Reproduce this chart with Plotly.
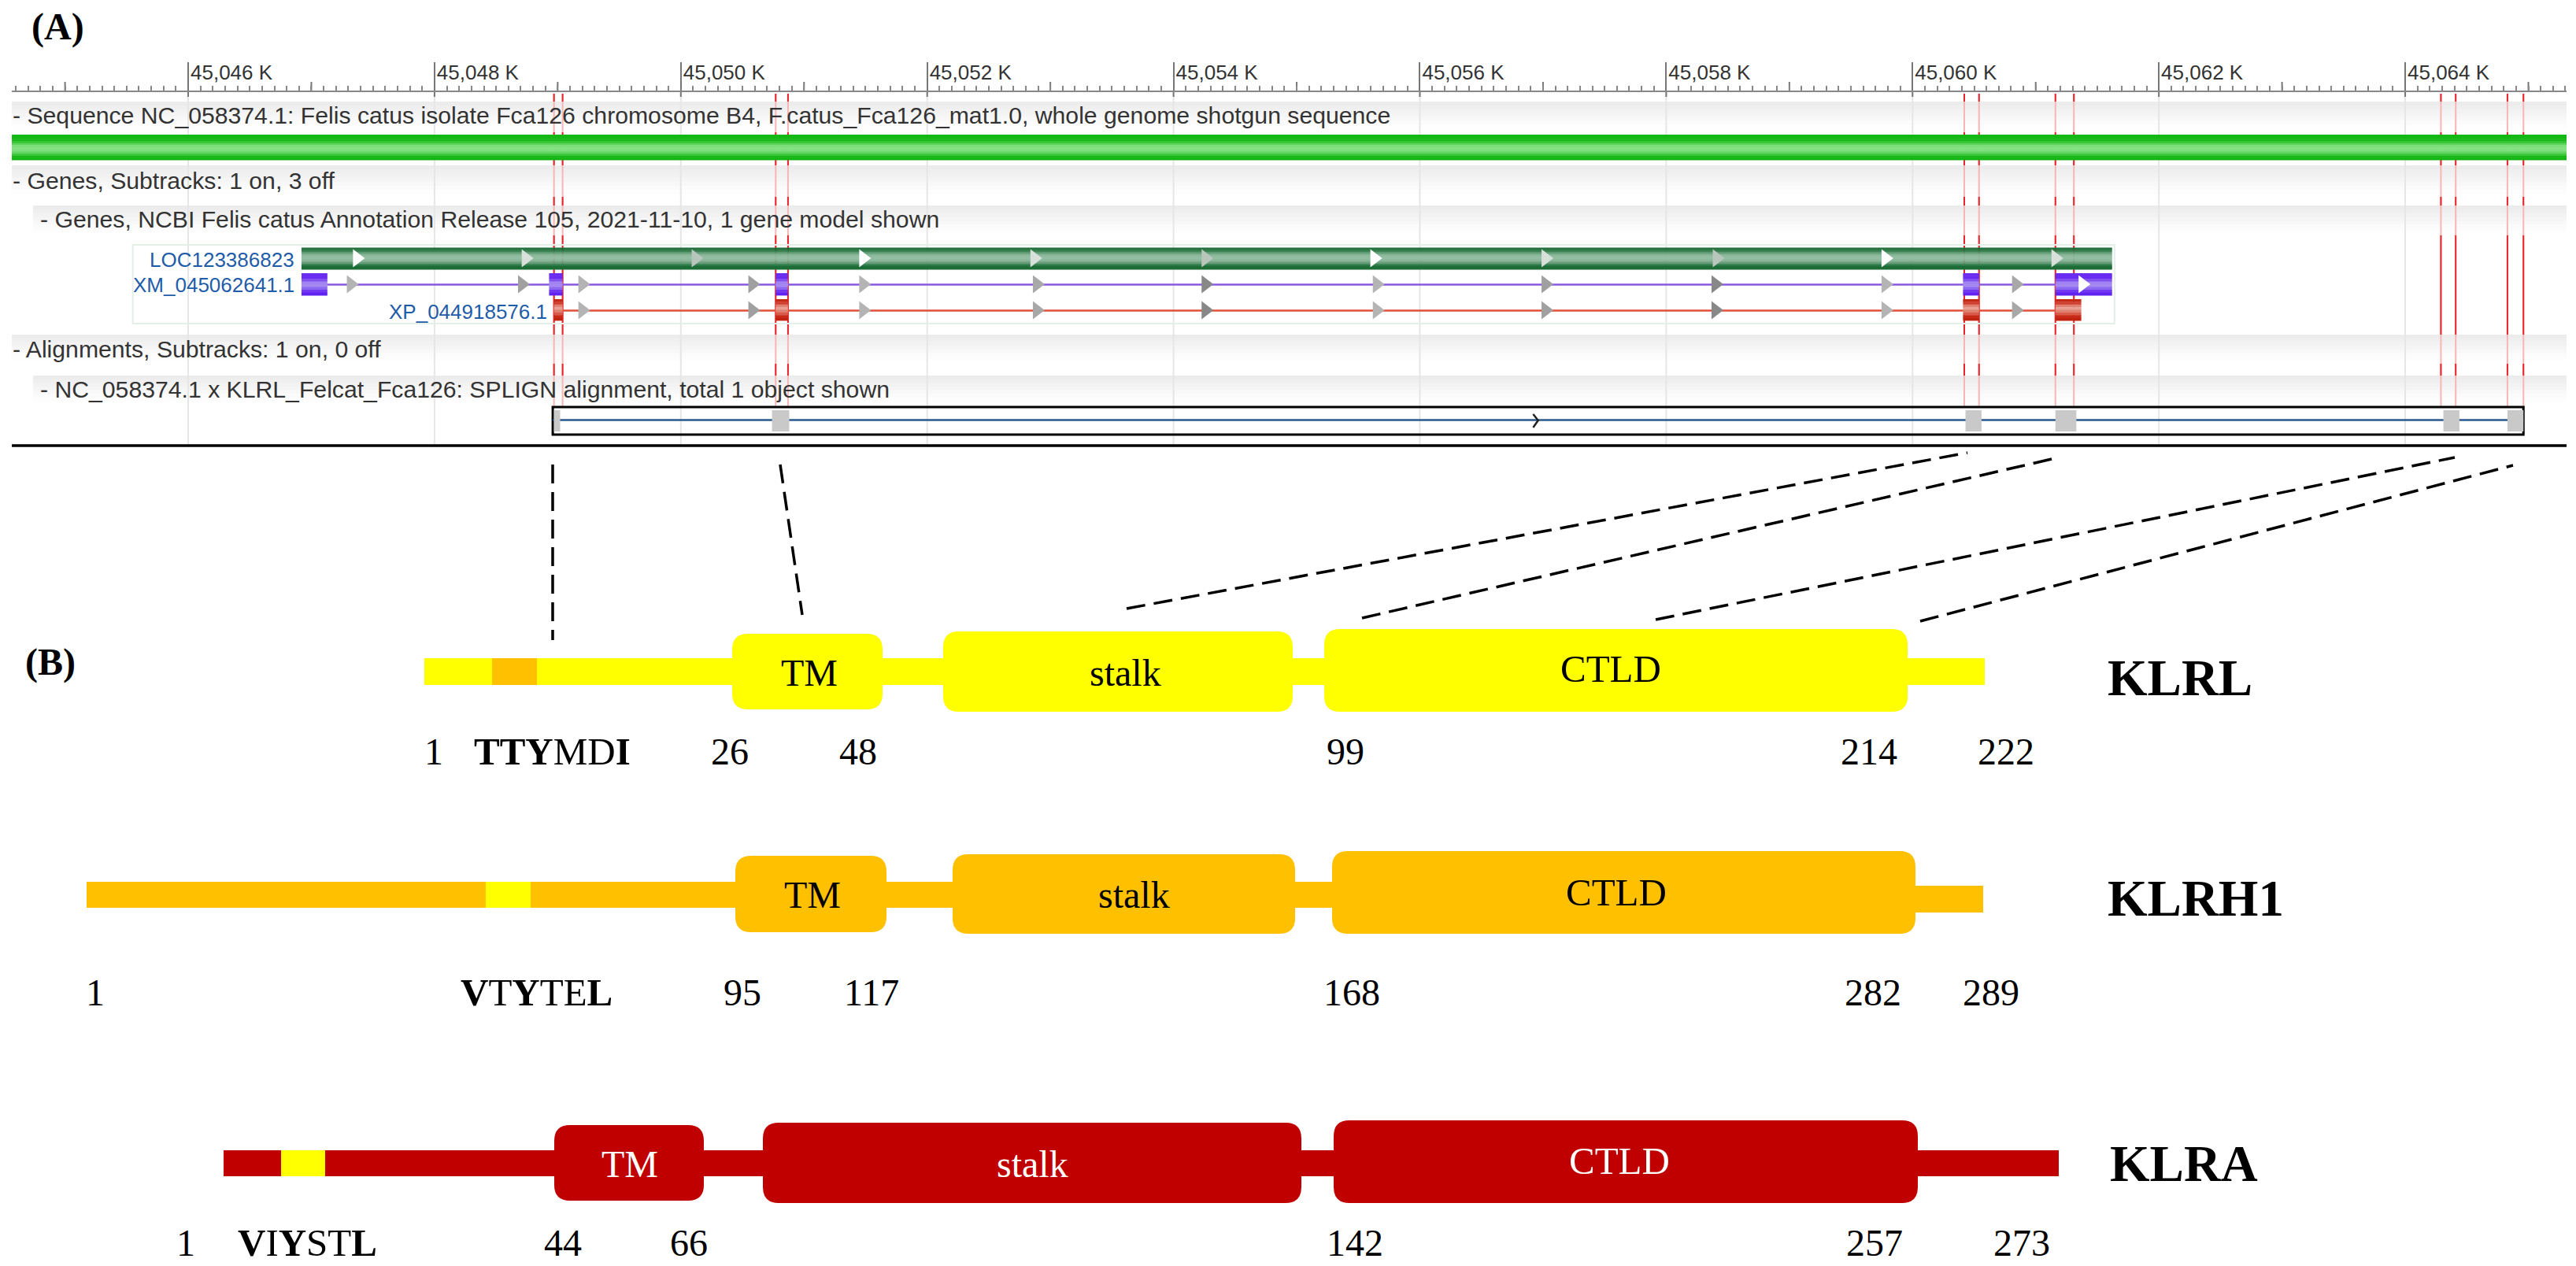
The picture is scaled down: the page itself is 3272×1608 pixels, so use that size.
import plotly.graph_objects as go

# ---- panel A, genome coordinates in kb
ruler_ticks = [45046, 45048, 45050, 45052, 45054, 45056, 45058, 45060, 45062, 45064]
ruler_labels = ["45,046 K", "45,048 K", "45,050 K", "45,052 K", "45,054 K",
                "45,056 K", "45,058 K", "45,060 K", "45,062 K", "45,064 K"]
ruler_mid_ticks = [45045, 45047, 45049, 45051, 45053, 45055, 45057, 45059, 45061, 45063, 45065]

gene_span = [45046.92, 45061.62]
gene_arrows = [45047.37, 45048.74, 45050.12, 45051.48, 45052.87, 45054.26,
               45055.63, 45057.02, 45058.41, 45059.78, 45061.16]
gene_arrow_colors = ["#ffffff", "#d8e0da", "#b9c6bc", "#ffffff", "#d8e0da", "#b9c6bc",
                     "#ffffff", "#d8e0da", "#b9c6bc", "#ffffff", "#d8e0da"]

xm_exons = [[45046.92, 45047.13], [45048.93, 45049.04], [45050.77, 45050.87],
            [45060.41, 45060.54], [45061.16, 45061.62]]
xm_arrows = [45047.32, 45048.71, 45049.20, 45050.58, 45051.48, 45052.89,
             45054.26, 45055.65, 45057.02, 45058.40, 45059.78, 45060.84]
xm_arrow_colors = ["#b4b4b4", "#a0a0a0", "#b4b4b4", "#a0a0a0", "#b4b4b4", "#a8a8a8",
                   "#888888", "#b4b4b4", "#a0a0a0", "#888888", "#b4b4b4", "#a8a8a8"]
xp_exons = [[45048.97, 45049.04], [45050.77, 45050.87], [45060.41, 45060.54], [45061.16, 45061.37]]
xp_arrows = [45049.20, 45050.58, 45051.48, 45052.89, 45054.26, 45055.65,
             45057.02, 45058.40, 45059.78, 45060.84]
xp_arrow_colors = ["#b4b4b4", "#a0a0a0", "#b4b4b4", "#a8a8a8", "#888888", "#b4b4b4",
                   "#a0a0a0", "#888888", "#b4b4b4", "#a8a8a8"]

align_span = [45048.96, 45064.96]
align_blocks = [[45048.97, 45049.02], [45050.74, 45050.88], [45060.43, 45060.56],
                [45061.16, 45061.33], [45064.31, 45064.44], [45064.83, 45064.96]]
exon_marks = [45048.97, 45049.04, 45050.77, 45050.87, 45060.42, 45060.54,
              45061.16, 45061.31, 45064.29, 45064.41, 45064.83, 45064.96]

track_labels = ["- Sequence NC_058374.1: Felis catus isolate Fca126 chromosome B4, F.catus_Fca126_mat1.0, whole genome shotgun sequence",
                "- Genes, Subtracks: 1 on, 3 off",
                "- Genes, NCBI Felis catus Annotation Release 105, 2021-11-10, 1 gene model shown",
                "- Alignments, Subtracks: 1 on, 0 off",
                "- NC_058374.1 x KLRL_Felcat_Fca126: SPLIGN alignment, total 1 object shown"]

# ---- panel B, schematic positions of the protein maps
klrl_bar = [539, 2521]
klrl_tm = [930, 1121]
klrl_stalk = [1198, 1642]
klrl_ctld = [1682, 2423]
klrl_motif = [625, 682]
klrl_residues = ["1", "26", "48", "99", "214", "222"]

klrh1_bar = [110, 2519]
klrh1_tm = [934, 1126]
klrh1_stalk = [1210, 1645]
klrh1_ctld = [1692, 2433]
klrh1_motif = [617, 674]
klrh1_residues = ["1", "95", "117", "168", "282", "289"]

klra_bar = [284, 2615]
klra_tm = [704, 894]
klra_stalk = [969, 1653]
klra_ctld = [1694, 2436]
klra_motif = [357, 413]
klra_residues = ["1", "44", "66", "142", "257", "273"]

klr_names = ["KLRL", "KLRH1", "KLRA"]
klr_motifs = ["<b>TTY</b>MD<b>I</b>", "<b>V</b>T<b>Y</b>TE<b>L</b>", "<b>V</b>I<b>Y</b>ST<b>L</b>"]

# canvas is used as the row coordinate for both panels
W, H = 3272, 1608
PANEL_L, PANEL_R = 45044.568, 45065.310
# px span of the ruler, x2 overlays x so it shares this domain
DOM_L, DOM_R = 15, 3260

SANS = "Liberation Sans"
SERIF = "Liberation Serif"
YELLOW = "#ffff00"
ORANGE = "#ffc000"
DARKRED = "#c00000"

shapes = []
annos = []


def rect(x0, x1, y0, y1, color, ref="x", line=None, lw=0):
    shapes.append(dict(type="rect", xref=ref, yref="y", x0=x0, x1=x1, y0=y0, y1=y1,
                       fillcolor=color, layer="below",
                       line=dict(color=line or color, width=lw)))


def seg(x0, y0, x1, y1, color, width, ref="x", dash=None):
    shapes.append(dict(type="line", xref=ref, yref="y", x0=x0, x1=x1, y0=y0, y1=y1, layer="below",
                       line=dict(color=color, width=width, dash=dash or "solid")))


def bands(x0, x1, y0, y1, colors):
    # stack of thin rows, fakes the browser gradients
    step = (y1 - y0) / len(colors)
    for i, c in enumerate(colors):
        rect(x0, x1, y0 + i * step, y0 + (i + 1) * step + 0.4, c)


def rounded(x0, x1, y0, y1, color, r=20):
    path = (f"M {x0 + r} {y0} L {x1 - r} {y0} Q {x1} {y0} {x1} {y0 + r} "
            f"L {x1} {y1 - r} Q {x1} {y1} {x1 - r} {y1} L {x0 + r} {y1} "
            f"Q {x0} {y1} {x0} {y1 - r} L {x0} {y0 + r} Q {x0} {y0} {x0 + r} {y0} Z")
    shapes.append(dict(type="path", xref="x2", yref="y", path=path, fillcolor=color,
                       layer="below", line=dict(width=0)))


def text(x, y, s, size, font, color="black", anchor="center", ref="x2"):
    annos.append(dict(xref=ref, yref="y", x=x, y=y, text=s, showarrow=False, xanchor=anchor,
                      yanchor="middle", borderpad=0, font=dict(size=size, family=font, color=color)))


header_grad = ["#ececec", "#efefef", "#f2f2f2", "#f5f5f5", "#f8f8f8", "#fbfbfb", "#fdfdfd", "#ffffff"]
green_grad = ["#14b814", "#14b814", "#18b818", "#34c434", "#5cd45c", "#7ae07a", "#84e284",
              "#80e080", "#64d664", "#40ca40", "#18b818", "#12b412"]
gene_grad = ["#1c6c36", "#1c6c36", "#3a8252", "#5c9a72", "#7cb08e", "#8cb89c", "#90bca0",
             "#8cb89c", "#7cb08e", "#6a9c7c", "#4a8a60", "#2c7a48", "#1c6c36", "#1c6c36"]
purple_grad = ["#6a2cf0", "#6a2cf0", "#8050f0", "#a184f2", "#a688f2", "#8c68f0", "#7038f0", "#6022f0"]
red_grad = ["#c42a14", "#d04030", "#e08070", "#e8a090", "#e08070", "#d85a48", "#c82c18", "#c02410"]

# header strips
header_rows = [(129, 168), (210, 252), (425, 462)]
subheader_rows = [(261, 300), (477, 514)]
for y0, y1 in header_rows:
    bands(PANEL_L, PANEL_R, y0, y1, header_grad)
for y0, y1 in subheader_rows:
    bands(45044.74, PANEL_R, y0, y1, header_grad)

# pale grid at the 2 K marks
for t in ruler_ticks:
    seg(t, 118, t, 566, "#e6e6e6", 2)

# exon guides: pink over the strips, full red in the gaps
for m in exon_marks:
    seg(m, 119, m, 518, "#f9b4b4", 2)
    for y0, y1 in [(119, 129), (168, 171), (203, 210), (250, 261), (299, 425), (462, 477)]:
        seg(m, y0, m, y1, "#e8242a", 2)

bands(PANEL_L, PANEL_R, 171, 203, green_grad)

# gene model box
shapes.append(dict(type="rect", xref="x", yref="y", x0=45045.55, x1=45061.64, y0=311, y1=411,
                   layer="below", line=dict(color="#e4efe8", width=2)))
bands(gene_span[0], gene_span[1], 314.5, 342, gene_grad)

seg(xm_exons[0][0], 361.5, xm_exons[-1][0], 361.5, "#8a58e0", 2.5)
seg(xp_exons[0][0], 394.5, xp_exons[-1][0], 394.5, "#e0503a", 2.5)
for e in xm_exons:
    bands(e[0], e[1], 347, 375, purple_grad)
for e in xp_exons:
    bands(e[0], e[1], 380, 407, red_grad)

# alignment row
shapes.append(dict(type="rect", xref="x", yref="y", x0=align_span[0], x1=align_span[1], y0=517, y1=552,
                   layer="below", fillcolor="rgba(255,255,255,0)", line=dict(color="black", width=3)))
seg(align_span[0], 533.5, align_span[1], 533.5, "#28588e", 2.5)
for b in align_blocks:
    rect(b[0], b[1], 521, 548, "#c9c9c9")

seg(PANEL_L, 566, PANEL_R, 566, "black", 3.5)

# track labels
track_rows = [146, 229, 278, 443, 494]
track_lefts = [45044.568, 45044.568, 45044.79, 45044.568, 45044.79]
for lab, y, x in zip(track_labels, track_rows, track_lefts):
    text(x, y, lab, 30.2, SANS, "#333333", "left", "x")
text(45046.87, 330, "LOC123386823", 26, SANS, "#1f5ca8", "right", "x")
text(45046.87, 362, "XM_045062641.1", 26, SANS, "#1f5ca8", "right", "x")
text(45048.92, 396, "XP_044918576.1", 26, SANS, "#1f5ca8", "right", "x")

text(39, 34, "<b>(A)</b>", 48, SERIF, anchor="left")
text(31, 841, "<b>(B)</b>", 48, SERIF, anchor="left")

# panel B, one map per receptor
maps = [
    dict(name=klr_names[0], color=YELLOW, motif_color=ORANGE, ink="black", bar=klrl_bar, tm=klrl_tm, stalk=klrl_stalk,
         ctld=klrl_ctld, motif=klrl_motif, res=klrl_residues, motif_txt=klr_motifs[0],
         bar_y=(836, 870), tail_y=(836, 870), tm_y=(805, 901), stalk_y=(802, 904), ctld_y=(799, 904),
         tm_txt=(1028, 854), stalk_txt=(1429, 854), ctld_txt=(2046, 849),
         lab_y=954, lab_x=[551, 927, 1090, 1709, 2374, 2548], motif_x=701, name_xy=(2676, 861)),
    dict(name=klr_names[1], color=ORANGE, motif_color=YELLOW, ink="black", bar=klrh1_bar, tm=klrh1_tm, stalk=klrh1_stalk,
         ctld=klrh1_ctld, motif=klrh1_motif, res=klrh1_residues, motif_txt=klr_motifs[1],
         bar_y=(1120, 1153), tail_y=(1125, 1159), tm_y=(1087, 1184), stalk_y=(1085, 1186), ctld_y=(1081, 1186),
         tm_txt=(1032, 1136), stalk_txt=(1440, 1136), ctld_txt=(2053, 1133),
         lab_y=1260, lab_x=[121, 943, 1107, 1717, 2379, 2529], motif_x=681, name_xy=(2676, 1141)),
    dict(name=klr_names[2], color=DARKRED, motif_color=YELLOW, ink="white", bar=klra_bar, tm=klra_tm, stalk=klra_stalk,
         ctld=klra_ctld, motif=klra_motif, res=klra_residues, motif_txt=klr_motifs[2],
         bar_y=(1461, 1494), tail_y=(1461, 1494), tm_y=(1429, 1525), stalk_y=(1426, 1528), ctld_y=(1423, 1528),
         tm_txt=(800, 1478), stalk_txt=(1311, 1478), ctld_txt=(2057, 1474),
         lab_y=1578, lab_x=[236, 715, 875, 1721, 2381, 2568], motif_x=390, name_xy=(2679, 1478)),
]
for m in maps:
    rect(m["bar"][0], m["ctld"][1] - 30, m["bar_y"][0], m["bar_y"][1], m["color"], "x2")
    rect(m["ctld"][1] - 30, m["bar"][1], m["tail_y"][0], m["tail_y"][1], m["color"], "x2")
    rect(m["motif"][0], m["motif"][1], m["bar_y"][0], m["bar_y"][1], m["motif_color"], "x2")
    rounded(m["tm"][0], m["tm"][1], m["tm_y"][0], m["tm_y"][1], m["color"])
    rounded(m["stalk"][0], m["stalk"][1], m["stalk_y"][0], m["stalk_y"][1], m["color"])
    rounded(m["ctld"][0], m["ctld"][1], m["ctld_y"][0], m["ctld_y"][1], m["color"])
    text(m["tm_txt"][0], m["tm_txt"][1], "TM", 48, SERIF, m["ink"])
    text(m["stalk_txt"][0], m["stalk_txt"][1], "stalk", 48, SERIF, m["ink"])
    text(m["ctld_txt"][0], m["ctld_txt"][1], "CTLD", 49, SERIF, m["ink"])
    for r, x in zip(m["res"], m["lab_x"]):
        text(x, m["lab_y"], r, 48, SERIF)
    text(m["motif_x"], m["lab_y"], m["motif_txt"], 49, SERIF)
    text(m["name_xy"][0], m["name_xy"][1], f"<b>{m['name']}</b>", 65, SERIF, anchor="left")

# dashed connectors from exons to the domains
connectors = [((702, 590), (702, 813)), ((991, 590), (1019, 781)), ((1431, 773), (2499, 575)),
              ((1730, 785), (2615, 581)), ((2103, 787), (3118, 581)), ((2439, 789), (3192, 591))]
for a, b in connectors:
    seg(a[0], a[1], b[0], b[1], "black", 3.5, "x2", "24px,11px")

fig = go.Figure()

# ruler extras the axis cannot do: the 1 K ticks and the stubs below the line
mid_x, mid_y = [], []
for t in ruler_mid_ticks:
    mid_x += [t, t, None]
    mid_y += [104, 116, None]
for t in ruler_ticks:
    mid_x += [t, t, None]
    mid_y += [116, 123, None]
fig.add_trace(go.Scatter(x=mid_x, y=mid_y, mode="lines", line=dict(color="#777777", width=2), hoverinfo="skip"))

arrow = dict(symbol="triangle-right", size=20, line=dict(width=0))
fig.add_trace(go.Scatter(x=gene_arrows, y=[328] * len(gene_arrows), mode="markers",
                         marker=dict(arrow, color=gene_arrow_colors), hoverinfo="skip"))
fig.add_trace(go.Scatter(x=xm_arrows, y=[361] * len(xm_arrows), mode="markers",
                         marker=dict(arrow, color=xm_arrow_colors), hoverinfo="skip"))
fig.add_trace(go.Scatter(x=[45061.38], y=[361], mode="markers",
                         marker=dict(arrow, color="#ffffff"), hoverinfo="skip"))
fig.add_trace(go.Scatter(x=xp_arrows, y=[394] * len(xp_arrows), mode="markers",
                         marker=dict(arrow, color=xp_arrow_colors), hoverinfo="skip"))
# strand chevron on the alignment
fig.add_trace(go.Scatter(x=[45056.92, 45056.96, 45056.92], y=[526, 534, 543], mode="lines",
                         line=dict(color="#222222", width=2.5), hoverinfo="skip"))

fig.update_layout(
    width=W, height=H, margin=dict(l=0, r=0, t=0, b=0), showlegend=False,
    paper_bgcolor="white", plot_bgcolor="white",
    shapes=shapes, annotations=annos,
    xaxis=dict(domain=[DOM_L / W, DOM_R / W], range=[PANEL_L, PANEL_R], anchor="free", position=1 - 116 / H, side="top",
               showgrid=False, zeroline=False, showline=True, linecolor="#888888", linewidth=2,
               tickmode="array", tickvals=ruler_ticks, ticktext=ruler_labels,
               ticks="outside", ticklen=36, tickwidth=2, tickcolor="#777777",
               ticklabelshift=55, ticklabelstandoff=-32,
               tickfont=dict(family=SANS, size=26, color="#333333"),
               minor=dict(dtick=0.1, tick0=45046, ticks="outside", ticklen=6, tickwidth=2, tickcolor="#888888", showgrid=False)),
    xaxis2=dict(range=[DOM_L, DOM_R], overlaying="x", anchor="y", visible=False),
    yaxis=dict(domain=[0, 1], range=[H, 0], visible=False, anchor="x2"),
)

fig.write_html("out.html", config={"displayModeBar": False}, post_script="document.body.style.margin='0';")
